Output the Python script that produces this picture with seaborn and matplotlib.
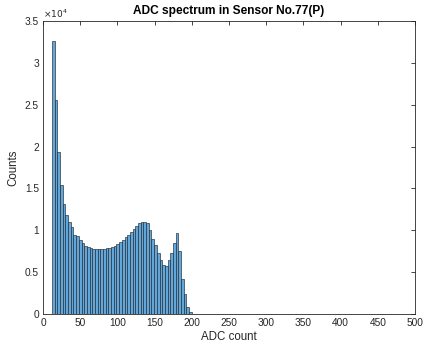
import numpy as np
import pandas as pd
import matplotlib
matplotlib.use("Agg")
import matplotlib.pyplot as plt
import seaborn as sns

# ---- data ----
bin_start = 12.0
bin_stop = 200.0
counts = [32600, 25600, 19300, 15400, 13100, 11800, 11000, 10400, 9450, 9300,
          8800, 8500, 8150, 8050, 7900, 7800, 7750, 7750, 7750, 7800,
          7850, 7900, 8000, 8100, 8400, 8650, 8850, 9250, 9450, 9850,
          10200, 10550, 10850, 10950, 10950, 10850, 10000, 8900, 8250, 7300,
          6500, 5850, 5700, 6450, 7250, 8450, 9650, 7550, 4150, 2400,
          870, 200]
x_ticks = [0, 50, 100, 150, 200, 250, 300, 350, 400, 450, 500]
y_ticks = [0, 5000, 10000, 15000, 20000, 25000, 30000, 35000]
y_tick_labels = ["0", "0.5", "1", "1.5", "2", "2.5", "3", "3.5"]
title = "ADC spectrum in Sensor No.77(P)"
xlabel = "ADC count"
ylabel = "Counts"

bw = (bin_stop - bin_start) / len(counts)
centers = bin_start + bw * (np.arange(len(counts)) + 0.5)
df = pd.DataFrame({"adc": centers, "n": counts})

sns.set_style("white")
plt.rcParams["font.family"] = ["Liberation Sans", "DejaVu Sans"]

fig = plt.figure(figsize=(4.23, 3.47), dpi=100)
ax = fig.add_axes([0.1017, 0.0951, 0.8793, 0.8444])

sns.histplot(data=df, x="adc", weights="n", binwidth=bw,
             binrange=(bin_start, bin_stop), ax=ax,
             color="#62A6DA", alpha=1.0, edgecolor="#1f2a33", linewidth=0.45)

ax.set_xlim(0, 500)
ax.set_ylim(0, 35000)
ax.set_xticks(x_ticks)
ax.set_yticks(y_ticks)
ax.set_yticklabels(y_tick_labels)
tc = "#262626"
ax.tick_params(direction="in", top=True, right=True, length=3, width=0.6,
               labelsize=7.3, colors=tc, labelcolor=tc, pad=3)
for s in ax.spines.values():
    s.set_visible(True)
    s.set_color(tc)
    s.set_linewidth(0.6)
ax.set_xlabel(xlabel, fontsize=8.3, color=tc, labelpad=2)
ax.set_ylabel(ylabel, fontsize=8.3, color=tc, labelpad=4)
ax.set_title(title, fontsize=8.6, fontweight="bold", color="black", pad=5)
ax.text(0.0, 1.005, r"$\times10^4$", transform=ax.transAxes, fontsize=6.5,
        color=tc, ha="left", va="bottom")
ax.grid(False)

fig.savefig("out.png", dpi=100)
